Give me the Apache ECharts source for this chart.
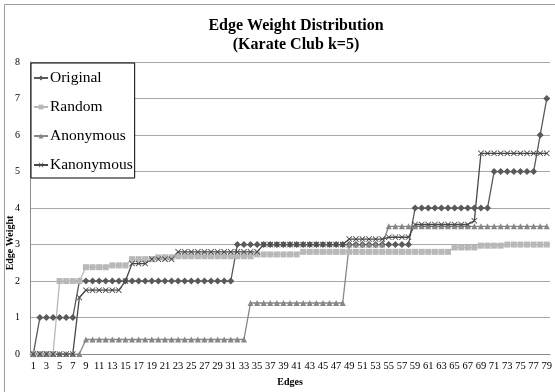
<!DOCTYPE html>
<html>
<head>
<meta charset="utf-8">
<script src="https://cdn.jsdelivr.net/npm/echarts@6/dist/echarts.min.js"></script>
<style>
  html, body { margin: 0; padding: 0; background: #fff; }
  #chart { width: 555px; height: 392px; }
</style>
</head>
<body>
<div id="chart"></div>
<script>
// Edge indices 1..79
const edges = [
  '1','2','3','4','5','6','7','8','9','10','11','12','13','14','15','16','17','18','19','20',
  '21','22','23','24','25','26','27','28','29','30','31','32','33','34','35','36','37','38','39','40',
  '41','42','43','44','45','46','47','48','49','50','51','52','53','54','55','56','57','58','59','60',
  '61','62','63','64','65','66','67','68','69','70','71','72','73','74','75','76','77','78','79'
];

const original = [
  0,
  1, 1, 1, 1, 1, 1,
  2, 2, 2, 2, 2, 2, 2, 2, 2, 2, 2, 2, 2, 2, 2, 2, 2, 2, 2, 2, 2, 2, 2, 2,
  3, 3, 3, 3, 3, 3, 3, 3, 3, 3, 3, 3, 3, 3, 3, 3, 3, 3, 3, 3, 3, 3, 3, 3, 3, 3, 3,
  4, 4, 4, 4, 4, 4, 4, 4, 4, 4, 4, 4,
  5, 5, 5, 5, 5, 5, 5,
  6,
  7
];

const random = [
  0, 0, 0, 0,
  2, 2, 2, 2,
  2.38, 2.38, 2.38, 2.38,
  2.43, 2.43, 2.43,
  2.6, 2.6, 2.6, 2.6,
  2.65, 2.65, 2.65,
  2.68, 2.68, 2.68, 2.68, 2.68, 2.68, 2.68, 2.68, 2.68, 2.68, 2.68, 2.68,
  2.73, 2.73, 2.73, 2.73, 2.73, 2.73, 2.73,
  2.8, 2.8, 2.8, 2.8, 2.8, 2.8, 2.8, 2.8, 2.8, 2.8, 2.8, 2.8, 2.8, 2.8, 2.8, 2.8,
  2.8, 2.8, 2.8, 2.8, 2.8, 2.8, 2.8,
  2.92, 2.92, 2.92, 2.92,
  2.97, 2.97, 2.97, 2.97,
  3, 3, 3, 3, 3, 3, 3
];

const anonymous = [
  0, 0, 0, 0, 0, 0, 0, 0,
  0.4, 0.4, 0.4, 0.4, 0.4, 0.4, 0.4, 0.4, 0.4, 0.4, 0.4, 0.4, 0.4, 0.4, 0.4, 0.4, 0.4,
  0.4, 0.4, 0.4, 0.4, 0.4, 0.4, 0.4, 0.4,
  1.4, 1.4, 1.4, 1.4, 1.4, 1.4, 1.4, 1.4, 1.4, 1.4, 1.4, 1.4, 1.4, 1.4, 1.4,
  3, 3, 3, 3, 3, 3,
  3.5, 3.5, 3.5, 3.5, 3.5, 3.5, 3.5, 3.5, 3.5, 3.5, 3.5, 3.5, 3.5, 3.5, 3.5, 3.5, 3.5,
  3.5, 3.5, 3.5, 3.5, 3.5, 3.5, 3.5, 3.5
];

const kanonymous = [
  0, 0, 0, 0, 0, 0, 0,
  1.55,
  1.75, 1.75, 1.75, 1.75, 1.75, 1.75,
  2,
  2.48, 2.48, 2.48,
  2.6, 2.6, 2.6, 2.6,
  2.8, 2.8, 2.8, 2.8, 2.8, 2.8, 2.8, 2.8, 2.8, 2.8, 2.8, 2.8, 2.8,
  3, 3, 3, 3, 3, 3, 3, 3, 3, 3, 3, 3, 3,
  3.15, 3.15, 3.15, 3.15, 3.15, 3.15,
  3.2, 3.2, 3.2, 3.2,
  3.55, 3.55, 3.55, 3.55, 3.55, 3.55, 3.55, 3.55, 3.55,
  3.65,
  5.5, 5.5, 5.5, 5.5, 5.5, 5.5, 5.5, 5.5, 5.5, 5.5, 5.5
];

const yTicks = [0, 1, 2, 3, 4, 5, 6, 7, 8];

const serif = '"Liberation Serif", "Times New Roman", serif';
const crossPath = 'path://M0,1L1,0L5,4L9,0L10,1L6,5L10,9L9,10L5,6L1,10L0,9L4,5Z';

function lineSeries(name, data, color, symbol, size) {
  return {
    name: name,
    type: 'line',
    data: data,
    symbol: symbol,
    symbolSize: size,
    showSymbol: true,
    showAllSymbol: true,
    lineStyle: { color: color, width: 1.3 },
    itemStyle: { color: color, borderWidth: 0 },
    emphasis: { disabled: true },
    animation: false
  };
}

const chart = echarts.init(document.getElementById('chart'), null, { renderer: 'canvas' });
chart.setOption({
  backgroundColor: '#ffffff',
  animation: false,
  title: {
    text: 'Edge Weight Distribution\n(Karate Club k=5)',
    left: 291,
    top: 11,
    textAlign: 'center',
    textStyle: {
      fontFamily: serif,
      fontWeight: 'bold',
      fontSize: 16,
      lineHeight: 19,
      color: '#000'
    }
  },
  legend: {
    orient: 'vertical',
    left: 31,
    top: 63,
    padding: [6, 2, 4, 2],
    itemGap: 11,
    itemWidth: 14,
    itemHeight: 6,
    backgroundColor: '#fff',
    borderColor: '#000',
    borderWidth: 1,
    borderRadius: 0,
    textStyle: { fontFamily: serif, fontSize: 15.5, color: '#000', padding: [0, 0, 0, -3], lineHeight: 18 },
    data: ['Original', 'Random', 'Anonymous', 'Kanonymous']
  },
  grid: { left: 30, right: 2, top: 62, bottom: 28, containLabel: false },
  xAxis: {
    type: 'category',
    data: edges,
    boundaryGap: true,
    name: 'Edges',
    nameLocation: 'middle',
    nameGap: 19,
    nameTextStyle: { fontFamily: serif, fontWeight: 'bold', fontSize: 10, color: '#000' },
    axisLine: { lineStyle: { color: '#8c8c8c', width: 1 } },
    axisTick: { show: false },
    axisLabel: { interval: 1, fontFamily: serif, fontSize: 10.5, color: '#000', margin: 7 },
    splitLine: { show: false }
  },
  yAxis: {
    type: 'value',
    min: yTicks[0],
    max: yTicks[yTicks.length - 1],
    interval: 1,
    axisLine: { show: true, lineStyle: { color: '#8c8c8c', width: 1 } },
    axisTick: { show: false },
    axisLabel: { fontFamily: serif, fontSize: 10, color: '#000', margin: 10 },
    splitLine: { lineStyle: { color: '#a8a8a8', width: 1 } }
  },
  graphic: [
    {
      type: 'rect',
      left: 2, top: 2,
      shape: { width: 551, height: 388 },
      style: { fill: 'none', stroke: '#9a9a9a', lineWidth: 1 },
      silent: true,
      z: -1
    },
    {
      type: 'text',
      x: 10, y: 243,
      rotation: Math.PI / 2,
      style: {
        text: 'Edge Weight',
        fontFamily: serif,
        fontWeight: 'bold',
        fontSize: 10,
        fill: '#000',
        textAlign: 'center',
        textVerticalAlign: 'middle'
      },
      silent: true
    }
  ],
  series: [
    lineSeries('Original', original, '#5a5a5a', 'diamond', 7),
    lineSeries('Random', random, '#b8b8b8', 'rect', 6),
    lineSeries('Anonymous', anonymous, '#878787', 'triangle', 6),
    lineSeries('Kanonymous', kanonymous, '#474747', crossPath, 6)
  ]
});
</script>
</body>
</html>
